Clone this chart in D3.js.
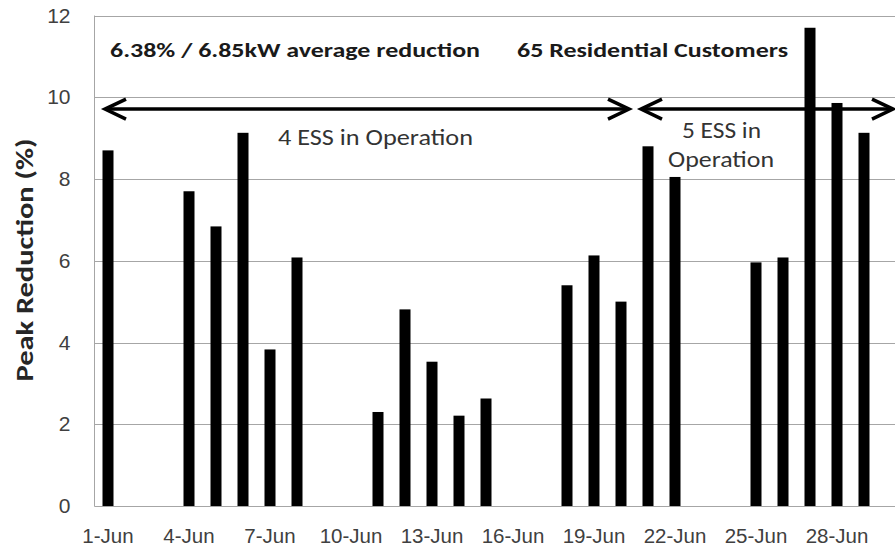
<!DOCTYPE html>
<html>
<head>
<meta charset="utf-8">
<script src="https://cdn.jsdelivr.net/npm/d3@7"></script>
<style>
  body { margin: 0; background: #fff; }
  svg { display: block; font-family: Carlito, Calibri, Lato, "Open Sans", sans-serif; }
  .grid line { stroke: #a6a6a6; stroke-width: 1; }
</style>
</head>
<body>
<div id="chart"></div>
<script>
var width = 895;
var height = 548;

// data (null = no value that day)
var days = ["1-Jun", "2-Jun", "3-Jun", "4-Jun", "5-Jun", "6-Jun", "7-Jun", "8-Jun", "9-Jun", "10-Jun",
            "11-Jun", "12-Jun", "13-Jun", "14-Jun", "15-Jun", "16-Jun", "17-Jun", "18-Jun", "19-Jun", "20-Jun",
            "21-Jun", "22-Jun", "23-Jun", "24-Jun", "25-Jun", "26-Jun", "27-Jun", "28-Jun", "29-Jun", "30-Jun"];
var reduction = [8.70, null, null, 7.70, 6.84, 9.13, 3.83, 6.08, null, null,
                 2.30, 4.81, 3.53, 2.21, 2.63, null, null, 5.40, 6.13, 5.00,
                 8.80, 8.05, null, null, 5.96, 6.08, 11.70, 9.86, 9.13, null];
var xTickLabels = ["1-Jun", "4-Jun", "7-Jun", "10-Jun", "13-Jun", "16-Jun", "19-Jun", "22-Jun", "25-Jun", "28-Jun"];
var yTicks = [0, 2, 4, 6, 8, 10, 12];

var LEFT = 94.5, TOP = 15.5, BOTTOM = 506;
var BAR_WIDTH = 11;

var svg = d3.select("#chart").append("svg")
    .attr("width", width)
    .attr("height", height);

// band per day; the last band runs past the right edge of the picture
var x = d3.scaleBand().domain(days).range([LEFT, LEFT + 27 * days.length]);
var y = d3.scaleLinear().domain([0, 12]).range([BOTTOM, TOP]);

function cx(day) { return x(day) + x.bandwidth() / 2; }

// Gridlines + frame
svg.append("g").attr("class", "grid")
    .selectAll("line").data(yTicks).enter().append("line")
    .attr("x1", LEFT).attr("x2", x.range()[1])
    .attr("y1", function(d) { return Math.round(y(d)) + 0.5; })
    .attr("y2", function(d) { return Math.round(y(d)) + 0.5; });
svg.append("line")
    .attr("x1", LEFT).attr("x2", LEFT).attr("y1", y(12)).attr("y2", y(0))
    .style("stroke", "#a6a6a6");

// Bars
var data = days.map(function(d, i) { return { day: d, value: reduction[i] }; })
    .filter(function(d) { return d.value != null; });

svg.selectAll("rect.bar").data(data).enter().append("rect")
    .attr("class", "bar")
    .attr("x", function(d) { return cx(d.day) - BAR_WIDTH / 2; })
    .attr("y", function(d) { return y(d.value); })
    .attr("width", BAR_WIDTH)
    .attr("height", function(d) { return y(0) - y(d.value); })
    .style("fill", "#000");

// Y axis labels
var yAxis = d3.axisLeft(y).tickValues(yTicks).tickSize(0).tickPadding(24);
var gy = svg.append("g").attr("transform", "translate(" + LEFT + ",0)").call(yAxis);
gy.select(".domain").remove();
gy.selectAll("text").style("font-size", "21px").style("fill", "#404040");

// X axis labels
var xAxis = d3.axisBottom(x).tickValues(xTickLabels).tickSize(0).tickPadding(22);
var gx = svg.append("g").attr("transform", "translate(0," + BOTTOM + ")").call(xAxis);
gx.select(".domain").attr("d", "M" + LEFT + ",0.5H" + x.range()[1]).style("stroke", "#a6a6a6");
gx.selectAll("text").style("font-size", "20.5px").style("fill", "#404040");

// Y title
svg.append("text")
    .attr("transform", "translate(33,260) rotate(-90)")
    .attr("text-anchor", "middle")
    .attr("textLength", 243).attr("lengthAdjust", "spacingAndGlyphs")
    .style("font-size", "24px")
    .style("font-weight", "bold")
    .style("fill", "#262626")
    .text("Peak Reduction (%)");

// Annotations
function note(text, x0, y0, len, size, bold, anchor) {
    svg.append("text").attr("x", x0).attr("y", y0)
        .attr("text-anchor", anchor || "start")
        .attr("textLength", len).attr("lengthAdjust", "spacingAndGlyphs")
        .style("font-size", size + "px")
        .style("font-weight", bold ? "bold" : "normal")
        .style("fill", bold ? "#1a1a1a" : "#333")
        .text(text);
}
note("6.38% / 6.85kW average reduction", 110, 57, 370, 20.5, true);
note("65 Residential Customers", 517, 57, 271, 20.5, true);

var arrowY = y(9.71);
function doubleArrow(x1, x2) {
    var g = svg.append("g").style("stroke", "#000").style("stroke-width", 3.5).style("fill", "none");
    g.append("line").attr("x1", x1 + 1).attr("x2", x2 - 1).attr("y1", arrowY).attr("y2", arrowY);
    g.append("path").attr("d", "M" + (x1 + 21) + "," + (arrowY - 10) + "L" + x1 + "," + arrowY + "L" + (x1 + 21) + "," + (arrowY + 10));
    g.append("path").attr("d", "M" + (x2 - 21) + "," + (arrowY - 10) + "L" + x2 + "," + arrowY + "L" + (x2 - 21) + "," + (arrowY + 10));
}
doubleArrow(105, 629);
doubleArrow(641, 893);

note("4 ESS in Operation", 278, 145, 195, 22, false);
note("5 ESS in", 682, 138, 79, 22, false);
note("Operation", 668, 167, 106, 22, false);
</script>
</body>
</html>
